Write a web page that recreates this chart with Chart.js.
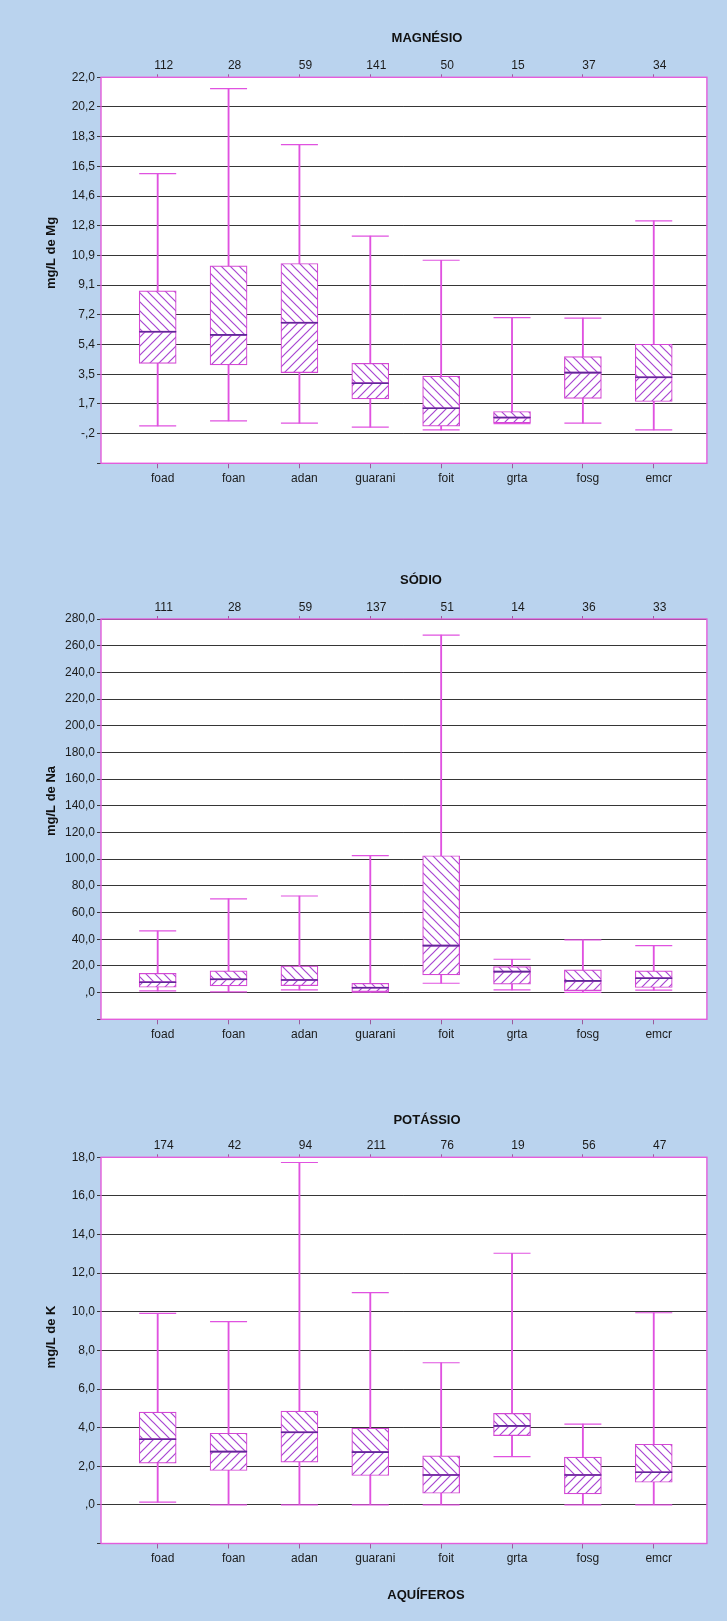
<!DOCTYPE html>
<html>
<head>
<meta charset="utf-8">
<script src="https://cdn.jsdelivr.net/npm/chart.js@4.4.1/dist/chart.umd.min.js"></script>
<style>
  html, body { margin: 0; padding: 0; background: #bad3ee; }
  body { width: 727px; height: 1621px; position: relative; overflow: hidden; }
  canvas { position: absolute; left: 0; }
</style>
</head>
<body>
<canvas id="mg" width="727" height="540" style="top:0px"></canvas>
<canvas id="na" width="727" height="540" style="top:540px"></canvas>
<canvas id="k"  width="727" height="541" style="top:1080px"></canvas>
<script>
// Aquifer groups on the horizontal axis
const categories = ['foad', 'foan', 'adan', 'guarani', 'foit', 'grta', 'fosg', 'emcr'];

// Magnésio (mg/L): sample counts and box-plot statistics per aquifer
const mgCounts = [112, 28, 59, 141, 50, 15, 37, 34];
const mgMin    = [0.28, 0.59, 0.45, 0.20, 0.03, 0.42, 0.45, 0.03];
const mgQ1     = [4.18, 4.08, 3.60, 1.96, 0.26, 0.47, 2.00, 1.80];
const mgMedian = [6.15, 5.95, 6.71, 2.94, 1.38, 0.80, 3.60, 3.31];
const mgQ3     = [8.70, 10.25, 10.40, 4.18, 3.38, 1.18, 4.60, 5.37];
const mgMax    = [16.0, 21.3, 17.8, 12.1, 10.6, 7.03, 7.0, 13.05];
const mgTickLabels = ['', '-,2', '1,7', '3,5', '5,4', '7,2', '9,1', '10,9', '12,8', '14,6', '16,5', '18,3', '20,2', '22,0'];

// Sódio (mg/L)
const naCounts = [111, 28, 59, 137, 51, 14, 36, 33];
const naMin    = [1.3, 0.6, 2.0, 0.3, 7.0, 2.0, 0.2, 1.8];
const naQ1     = [4.0, 5.0, 5.2, 0.8, 13.3, 6.3, 1.5, 3.8];
const naMedian = [7.8, 10.0, 9.5, 3.7, 35.2, 15.7, 8.8, 10.8];
const naQ3     = [14.5, 16.3, 20.0, 7.0, 102.6, 19.5, 17.0, 16.3];
const naMax    = [46.2, 70.2, 72.4, 102.6, 267.9, 25.0, 39.5, 35.2];
const naTickLabels = ['', ',0', '20,0', '40,0', '60,0', '80,0', '100,0', '120,0', '140,0', '160,0', '180,0', '200,0', '220,0', '240,0', '260,0', '280,0'];

// Potássio (mg/L)
const kCounts = [174, 42, 94, 211, 76, 19, 56, 47];
const kMin    = [0.14, 0.0, 0.0, 0.0, 0.0, 2.5, 0.0, 0.0];
const kQ1     = [2.16, 1.78, 2.21, 1.52, 0.60, 3.59, 0.57, 1.17];
const kMedian = [3.40, 2.76, 3.76, 2.73, 1.55, 4.09, 1.55, 1.69];
const kQ3     = [4.80, 3.71, 4.86, 3.97, 2.54, 4.74, 2.47, 3.14];
const kMax    = [9.92, 9.49, 17.73, 10.99, 7.36, 13.03, 4.18, 9.95];
const kTickLabels = ['', ',0', '2,0', '4,0', '6,0', '8,0', '10,0', '12,0', '14,0', '16,0', '18,0'];

// Styling
const FONT = "'Liberation Sans', Arial, Helvetica, sans-serif";
const TEXT = '#1b1b1b';
const GRID = '#363636';
const FRAME = '#e35ddb';
const BOX = '#d448d4';
const WHISKER = '#e052e0';
const HATCH = '#a846d2';
const MEDIAN = '#5e2a98';
const AXIS_TICK = '#9c5a9c';
const BOX_W = 37;

Chart.defaults.font.family = FONT;
Chart.defaults.font.size = 12;
Chart.defaults.color = TEXT;

// Diagonal hatch fill ('/' when forward, '\' otherwise) on white
function hatch(ctx, forward) {
  const s = 9;
  const c = document.createElement('canvas');
  c.width = c.height = s;
  const g = c.getContext('2d');
  g.fillStyle = '#ffffff';
  g.fillRect(0, 0, s, s);
  g.strokeStyle = HATCH;
  g.lineWidth = 1.2;
  g.beginPath();
  if (forward) {
    g.moveTo(-1, s + 1); g.lineTo(s + 1, -1);
    g.moveTo(-1, 1); g.lineTo(1, -1);
    g.moveTo(s - 1, s + 1); g.lineTo(s + 1, s - 1);
  } else {
    g.moveTo(-1, -1); g.lineTo(s + 1, s + 1);
    g.moveTo(s - 1, -1); g.lineTo(s + 1, 1);
    g.moveTo(-1, s - 1); g.lineTo(1, s + 1);
  }
  g.stroke();
  return ctx.createPattern(c, 'repeat');
}

// White plot area, pink frame and free-standing captions
const plotFrame = {
  id: 'plotFrame',
  beforeDraw(chart) {
    const { ctx, chartArea: a } = chart;
    ctx.save();
    ctx.fillStyle = '#ffffff';
    ctx.fillRect(a.left, a.top, a.right - a.left, a.bottom - a.top);
    ctx.restore();
  },
  afterDraw(chart, args, opts) {
    const { ctx, chartArea: a } = chart;
    ctx.save();
    ctx.strokeStyle = FRAME;
    ctx.lineWidth = 1.4;
    ctx.strokeRect(a.left, a.top, a.right - a.left, a.bottom - a.top);
    ctx.fillStyle = '#111111';
    ctx.textAlign = 'center';
    ctx.textBaseline = 'middle';
    (opts.texts || []).forEach(t => {
      ctx.save();
      ctx.font = 'bold ' + t.size + 'px ' + FONT;
      ctx.translate(t.x, t.y);
      if (t.rotate) ctx.rotate(-Math.PI / 2);
      ctx.fillText(t.text, 0, 0);
      ctx.restore();
    });
    ctx.restore();
  }
};

const X_MIN = -0.8, X_MAX = 7.75;

function catTicks(scale) {
  scale.ticks = categories.map((_, i) => ({ value: i }));
}

function buildChart(id, s) {
  const ctx = document.getElementById(id).getContext('2d');
  const pts = arr => arr.map((v, i) => ({ x: i, y: v }));
  const spans = (lo, hi) => lo.map((v, i) => ({ x: i, y: [v, hi[i]] }));
  const yMax = s.yMin + s.yStep * (s.tickLabels.length - 1);

  return new Chart(ctx, {
    type: 'bar',
    data: {
      datasets: [
        { type: 'line', label: 'Mediana', data: pts(s.median), showLine: false,
          pointStyle: 'line', pointRadius: BOX_W / 2, pointBorderWidth: 1.6,
          pointBorderColor: MEDIAN, pointBackgroundColor: MEDIAN,
          xAxisID: 'x', yAxisID: 'y', order: 0 },
        { type: 'line', label: 'Extremos', data: pts(s.min).concat(pts(s.max)), showLine: false,
          pointStyle: 'line', pointRadius: BOX_W / 2, pointBorderWidth: 1.2,
          pointBorderColor: WHISKER, pointBackgroundColor: WHISKER,
          xAxisID: 'x', yAxisID: 'y', order: 1 },
        { label: 'Q2-Q3', data: spans(s.median, s.q3), grouped: false,
          backgroundColor: hatch(ctx, false), borderColor: BOX, borderWidth: 1.2, borderSkipped: false,
          barThickness: BOX_W, maxBarThickness: BOX_W, xAxisID: 'x', yAxisID: 'y', order: 2 },
        { label: 'Q1-Q2', data: spans(s.q1, s.median), grouped: false,
          backgroundColor: hatch(ctx, true), borderColor: BOX, borderWidth: 1.2, borderSkipped: false,
          barThickness: BOX_W, maxBarThickness: BOX_W, xAxisID: 'x', yAxisID: 'y', order: 3 },
        { label: 'Amplitude', data: spans(s.min, s.max), grouped: false,
          backgroundColor: WHISKER, borderWidth: 0,
          barThickness: 1.2, maxBarThickness: 1.2, xAxisID: 'x', yAxisID: 'y', order: 4 }
      ]
    },
    options: {
      responsive: false,
      animation: false,
      events: [],
      layout: { padding: { left: 0, right: 9, top: s.padTop, bottom: s.padBottom } },
      plugins: {
        legend: { display: false },
        tooltip: { enabled: false },
        title: { display: false },
        plotFrame: { texts: s.texts }
      },
      scales: {
        x: {
          type: 'linear', position: 'bottom', min: X_MIN, max: X_MAX, offset: false,
          afterBuildTicks: catTicks,
          afterFit: sc => { sc.height = s.bottomH; },
          ticks: { callback: v => categories[v], padding: 3, labelOffset: 5, maxRotation: 0, autoSkip: false, color: TEXT },
          grid: { offset: false, drawOnChartArea: false, drawTicks: true, tickLength: 5, color: AXIS_TICK },
          border: { display: false }
        },
        x2: {
          type: 'linear', position: 'top', min: X_MIN, max: X_MAX, offset: false,
          afterBuildTicks: catTicks,
          afterFit: sc => { sc.height = s.topH; },
          ticks: { callback: v => String(s.counts[v]), padding: 1, labelOffset: 6, maxRotation: 0, autoSkip: false, color: TEXT },
          grid: { offset: false, drawOnChartArea: false, drawTicks: true, tickLength: 3, color: AXIS_TICK },
          border: { display: false }
        },
        y: {
          type: 'linear', position: 'left', min: s.yMin, max: yMax,
          afterBuildTicks: sc => { sc.ticks = s.tickLabels.map((_, i) => ({ value: s.yMin + i * s.yStep })); },
          afterFit: sc => { sc.width = 101; },
          ticks: { callback: (v, i) => s.tickLabels[i], padding: 2, color: TEXT },
          grid: { color: GRID, lineWidth: 1, drawTicks: true, tickLength: 4, tickColor: GRID },
          border: { display: false }
        }
      }
    },
    plugins: [plotFrame]
  });
}

buildChart('mg', {
  counts: mgCounts, min: mgMin, q1: mgQ1, median: mgMedian, q3: mgQ3, max: mgMax,
  yMin: -2.05, yStep: 1.85, tickLabels: mgTickLabels,
  padTop: 45, topH: 32.3, bottomH: 30, padBottom: 46.7,
  texts: [
    { text: 'MAGNÉSIO', x: 427, y: 38.5, size: 13 },
    { text: 'mg/L de Mg', x: 51, y: 253, size: 13, rotate: true }
  ]
});

buildChart('na', {
  counts: naCounts, min: naMin, q1: naQ1, median: naMedian, q3: naQ3, max: naMax,
  yMin: -20, yStep: 20, tickLabels: naTickLabels,
  padTop: 45, topH: 34, bottomH: 30, padBottom: 30.7,
  texts: [
    { text: 'SÓDIO', x: 421, y: 40, size: 13 },
    { text: 'mg/L de Na', x: 51, y: 261, size: 13, rotate: true }
  ]
});

buildChart('k', {
  counts: kCounts, min: kMin, q1: kQ1, median: kMedian, q3: kQ3, max: kMax,
  yMin: -2, yStep: 2, tickLabels: kTickLabels,
  padTop: 45, topH: 32.3, bottomH: 30, padBottom: 47.5,
  texts: [
    { text: 'POTÁSSIO', x: 427, y: 40, size: 13 },
    { text: 'mg/L de K', x: 51, y: 257, size: 13, rotate: true },
    { text: 'AQUÍFEROS', x: 426, y: 515, size: 13 }
  ]
});
</script>
</body>
</html>
